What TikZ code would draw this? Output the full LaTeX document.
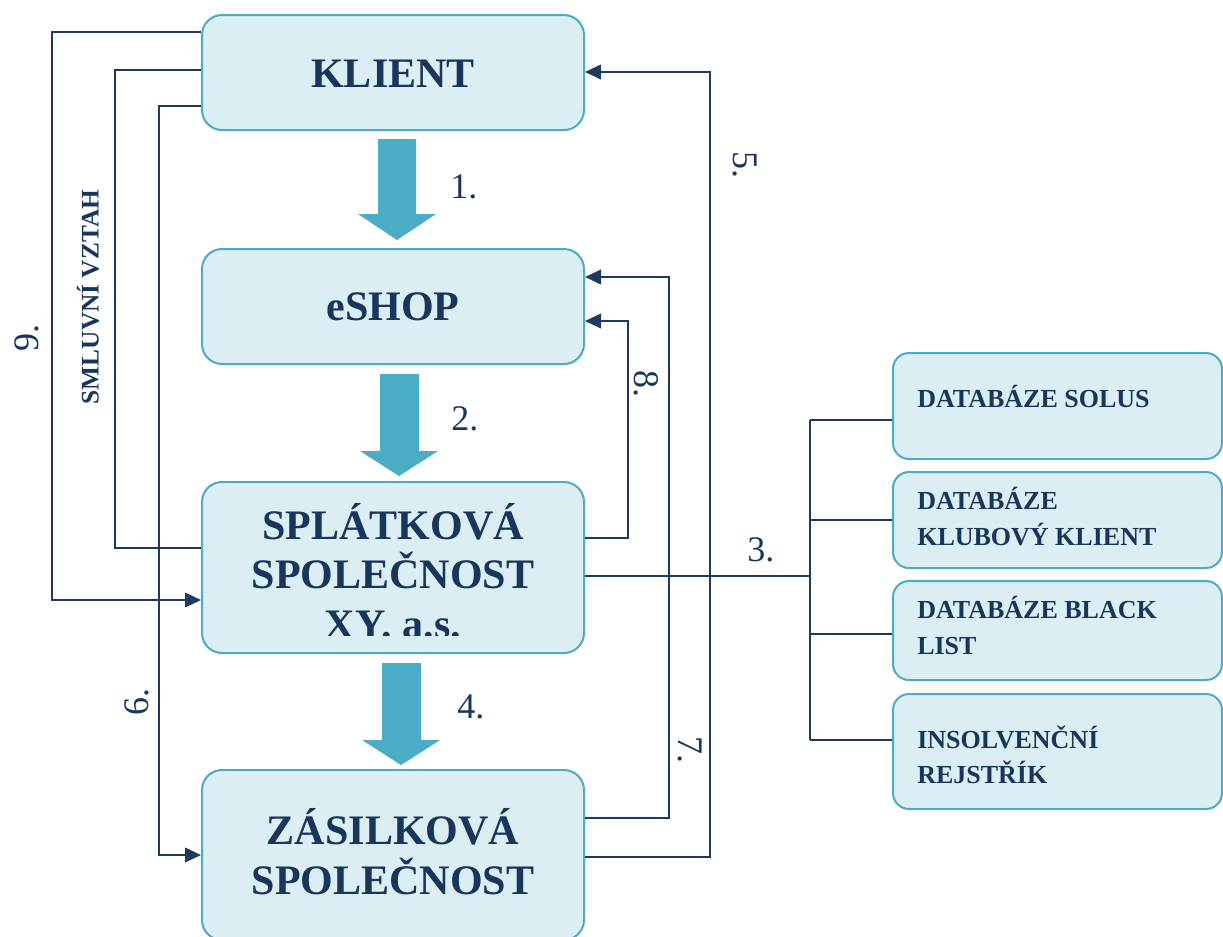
\documentclass[tikz,border=0pt]{standalone}
\usepackage{fontspec}
\setmainfont{Liberation Serif}
\usetikzlibrary{arrows.meta}
\definecolor{navy}{HTML}{17365D}
\definecolor{linecol}{HTML}{1F3A60}
\definecolor{boxfill}{HTML}{DAEEF3}
\definecolor{boxline}{HTML}{4BACC6}
\definecolor{aqua}{HTML}{4BACC6}
\begin{document}
\begin{tikzpicture}[x=0.75pt,y=-0.75pt,
  mainbox/.style={draw=boxline, fill=boxfill, line width=1.5pt, rounded corners=15pt, inner sep=0pt, minimum width=286.5pt},
  dbbox/.style={draw=boxline, fill=boxfill, line width=1.5pt, rounded corners=12pt, inner sep=0pt, minimum width=246.75pt},
  maintxt/.style={text=navy, font=\fontsize{31.5pt}{37pt}\selectfont\bfseries, inner sep=0pt, anchor=base},
  dbtxt/.style={text=navy, font=\fontsize{19.5pt}{27pt}\selectfont\bfseries, inner sep=0pt, anchor=base west},
  numtxt/.style={text=navy, font=\fontsize{27pt}{32pt}\selectfont, inner sep=0pt},
  conn/.style={draw=linecol, line width=1.4pt},
  tip/.style={-{Triangle[length=12pt,width=11pt]}},
  blockarrow/.style={fill=aqua, draw=none}
]
\useasboundingbox (0,0) rectangle (1223,936);

% main boxes
\node[mainbox, minimum height=86.25pt] (klient) at (393,72.5) {};
\node[mainbox, minimum height=86.25pt] (eshop) at (393,306.5) {};
\node[mainbox, minimum height=128.25pt] (splat) at (393,567.5) {};
\node[mainbox, minimum height=127.5pt] (zas) at (393,855) {};

% database boxes
\node[dbbox, minimum height=79.5pt] (db1) at (1057.5,406) {};
\node[dbbox, minimum height=72pt] (db2) at (1057.5,520) {};
\node[dbbox, minimum height=74.25pt] (db3) at (1057.5,630.5) {};
\node[dbbox, minimum height=86.25pt] (db4) at (1057.5,751.5) {};

% texts of main boxes
\node[maintxt] (t-klient) at (393,87) {KLIENT};
\node[maintxt] (t-eshop) at (393,320) {eSHOP};
\begin{scope}
  \clip (202,482) rectangle (584,635);
  \node[maintxt] (t-splat1) at (393,539) {SPLÁTKOVÁ};
  \node[maintxt] (t-splat2) at (393,588) {SPOLEČNOST};
  \node[maintxt] (t-splat3) at (393,638) {XY. a.s.};
\end{scope}
\node[maintxt] (t-zas1) at (393,844) {ZÁSILKOVÁ};
\node[maintxt] (t-zas2) at (393,894) {SPOLEČNOST};

% texts of database boxes
\node[dbtxt] (t-db1) at (917,407) {DATABÁZE SOLUS};
\node[dbtxt] (t-db2a) at (917,509) {DATABÁZE};
\node[dbtxt] (t-db2b) at (917,545) {KLUBOVÝ KLIENT};
\node[dbtxt] (t-db3a) at (917,618) {DATABÁZE BLACK};
\node[dbtxt] (t-db3b) at (917,654) {LIST};
\node[dbtxt] (t-db4a) at (917,748) {INSOLVENČNÍ};
\node[dbtxt] (t-db4b) at (917,783) {REJSTŘÍK};

% block arrows
\fill[blockarrow] (378,139) -- (416,139) -- (416,214) -- (436,214) -- (397,240) -- (358,214) -- (378,214) -- cycle;
\fill[blockarrow] (380,374) -- (419,374) -- (419,451) -- (438,451) -- (399,476) -- (360,451) -- (380,451) -- cycle;
\fill[blockarrow] (382,663) -- (421,663) -- (421,740) -- (440,740) -- (401,765) -- (362,740) -- (382,740) -- cycle;

% left connectors
\draw[conn, tip] (klient.west |- 0,32) -- (52,32) -- (52,600) -- (splat.west |- 0,600);
\draw[conn] (klient.west |- 0,70) -- (115,70) -- (115,548) -- (splat.west |- 0,548);
\draw[conn, tip] (klient.west |- 0,106) -- (159,106) -- (159,855) -- (zas.west |- 0,855);

% right connectors
\draw[conn, tip] (zas.east |- 0,857) -- (710,857) -- (710,72) -- (klient.east |- 0,72);
\draw[conn, tip] (zas.east |- 0,818) -- (669,818) -- (669,277) -- (eshop.east |- 0,277);
\draw[conn, tip] (splat.east |- 0,538) -- (628,538) -- (628,321) -- (eshop.east |- 0,321);

% connector 3 to databases
\coordinate (fork) at (810,576);
\draw[conn] (splat.east |- fork) -- (fork);
\draw[conn] (810,420) -- (810,740);
\draw[conn] (810,420) -- (db1.west |- 0,420);
\draw[conn] (810,520) -- (db2.west |- 0,520);
\draw[conn] (810,634) -- (db3.west |- 0,634);
\draw[conn] (810,740) -- (db4.west |- 0,740);

% number labels
\node[numtxt, anchor=base west] (n1) at (450,198) {1.};
\node[numtxt, anchor=base west] (n2) at (451,430) {2.};
\node[numtxt, anchor=base west] (n4) at (457,718) {4.};
\node[numtxt, anchor=base west] (n3) at (747,561) {3.};
\node[numtxt, rotate=90] (n9) at (27,338) {9.};
\node[numtxt, rotate=90] (n6) at (137,702) {6.};
\node[numtxt, rotate=-90] (n8) at (646,384) {8.};
\node[numtxt, rotate=-90] (n7) at (690,750) {7.};
\node[numtxt, rotate=-90] (n5) at (745,165) {5.};
\node[text=navy, font=\fontsize{19pt}{22pt}\selectfont\bfseries, inner sep=0pt, rotate=90] (smluv) at (88,297) {SMLUVNÍ VZTAH};
\end{tikzpicture}
\end{document}
